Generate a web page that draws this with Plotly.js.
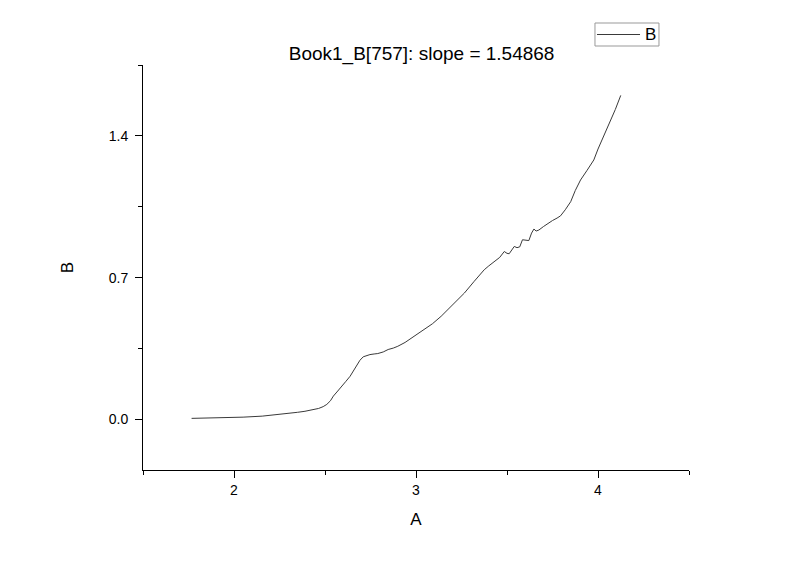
<!DOCTYPE html>
<html>
<head>
<meta charset="utf-8">
<script src="https://cdn.plot.ly/plotly-3.0.1.min.js"></script>
<style>html,body{margin:0;padding:0;background:#fff;}#chart{width:800px;height:564px;}</style>
</head>
<body>
<div id="chart"></div>
<script>
const seriesName = "B";
const chartTitle = "Book1_B[757]: slope = 1.54868";
const xLabel = "A";
const yLabel = "B";
const aValues = [1.767, 1.85, 1.936, 2.05, 2.155, 2.23, 2.30, 2.35, 2.39, 2.43, 2.465, 2.49, 2.51, 2.53, 2.546, 2.57, 2.59, 2.615, 2.638, 2.655, 2.674, 2.692, 2.71, 2.73, 2.747, 2.77, 2.79, 2.82, 2.847, 2.875, 2.90, 2.94, 2.975, 3.01, 3.047, 3.09, 3.138, 3.2, 3.266, 3.32, 3.375, 3.40, 3.43, 3.46, 3.485, 3.50, 3.512, 3.54, 3.555, 3.57, 3.585, 3.60, 3.62, 3.635, 3.648, 3.66, 3.675, 3.70, 3.725, 3.75, 3.775, 3.794, 3.82, 3.85, 3.875, 3.904, 3.94, 3.977, 4.0, 4.03, 4.05, 4.077, 4.095, 4.125];
const bValues = [0.005, 0.006, 0.008, 0.011, 0.016, 0.022, 0.03, 0.035, 0.04, 0.047, 0.054, 0.063, 0.074, 0.092, 0.115, 0.14, 0.164, 0.188, 0.213, 0.24, 0.27, 0.292, 0.309, 0.317, 0.32, 0.323, 0.325, 0.333, 0.345, 0.352, 0.361, 0.38, 0.402, 0.424, 0.443, 0.472, 0.509, 0.565, 0.624, 0.682, 0.739, 0.758, 0.78, 0.80, 0.829, 0.82, 0.818, 0.854, 0.848, 0.852, 0.887, 0.884, 0.883, 0.92, 0.94, 0.93, 0.935, 0.952, 0.968, 0.982, 0.994, 1.005, 1.035, 1.075, 1.13, 1.182, 1.23, 1.281, 1.335, 1.396, 1.44, 1.486, 1.53, 1.6];
const xTickVals = [2, 3, 4];
const xTickText = ["2", "3", "4"];
const xMinorVals = [1.5, 2.5, 3.5, 4.5];
const yTickVals = [0, 0.7, 1.4];
const yTickText = ["0.0", "0.7", "1.4"];
const yMinorVals = [0.35, 1.05, 1.75];

const font = "Liberation Sans, Arial, sans-serif";
const lineColor = "#3a3a3a";
const trace = {
  x: aValues, y: bValues, type: "scatter", mode: "lines", name: seriesName,
  line: {color: lineColor, width: 1}, showlegend: false
};
// legend box (paper coordinates relative to plot area)
const lg = {x0: 0.8278, x1: 0.945, y0: 1.0469, y1: 1.1037, lx0: 0.8315, lx1: 0.9103, ly: 1.0753, tx: 0.9286};
const layout = {
  width: 800, height: 564,
  margin: {l: 143, r: 111, t: 65, b: 94},
  paper_bgcolor: "#fff", plot_bgcolor: "#fff",
  font: {family: font, color: "#000"},
  title: {text: chartTitle, font: {size: 19, family: font, color: "#000"},
          xref: "container", x: 0.527, xanchor: "center", yref: "container", y: 1 - 53/564, yanchor: "middle"},
  showlegend: false,
  shapes: [
    {type: "rect", xref: "paper", yref: "paper", x0: lg.x0, x1: lg.x1, y0: lg.y0, y1: lg.y1,
     line: {color: "#999", width: 1}, fillcolor: "#fff", layer: "above"},
    {type: "line", xref: "paper", yref: "paper", x0: lg.lx0, x1: lg.lx1, y0: lg.ly, y1: lg.ly,
     line: {color: lineColor, width: 1}, layer: "above"}
  ],
  annotations: [
    {text: seriesName, xref: "paper", yref: "paper", x: lg.tx, y: lg.ly, xanchor: "center", yanchor: "middle",
     showarrow: false, font: {size: 17, family: font, color: "#000"}}
  ],
  xaxis: {
    range: [1.5, 4.5], tickvals: xTickVals, ticktext: xTickText,
    showgrid: false, zeroline: false, showline: true, linecolor: "#000", linewidth: 1,
    ticks: "outside", ticklen: 7, tickcolor: "#000", tickwidth: 1,
    tickfont: {size: 14, family: font},
    minor: {tickvals: xMinorVals, ticks: "outside", ticklen: 4, tickcolor: "#000", showgrid: false},
    title: {text: xLabel, font: {size: 17, family: font}, standoff: 16}
  },
  yaxis: {
    range: [-0.25, 1.75], tickvals: yTickVals, ticktext: yTickText,
    showgrid: false, zeroline: false, showline: true, linecolor: "#000", linewidth: 1,
    ticks: "outside", ticklen: 7, tickcolor: "#000", tickwidth: 1,
    tickfont: {size: 14, family: font}, ticklabelstandoff: 4,
    minor: {tickvals: yMinorVals, ticks: "outside", ticklen: 4, tickcolor: "#000", showgrid: false},
    title: {text: yLabel, font: {size: 17, family: font}, standoff: 30}
  }
};
Plotly.newPlot("chart", [trace], layout, {displayModeBar: false, staticPlot: true});
</script>
</body>
</html>
